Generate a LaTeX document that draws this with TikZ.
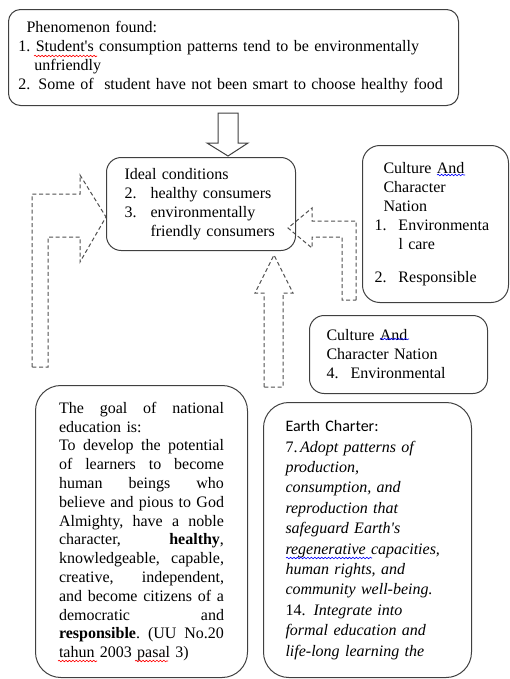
\documentclass[tikz,border=0pt]{standalone}
\usepackage{fontspec}
\setmainfont{Liberation Serif}
\setsansfont{Carlito}
\usepackage{xcolor}
\usetikzlibrary{decorations.pathmorphing}
\setlength{\parindent}{0pt}

% one justified line of the goal box, words split by \hfill
\newcommand{\fillline}[1]{\leavevmode\hbox to 123.75pt{#1}}

\tikzset{every picture/.style={line width=0.75pt}}
\tikzset{
  textbox/.style={draw={rgb, 255:red, 64; green, 64; blue, 64}, anchor=north west, inner ysep=0pt, align=left, font=\fontsize{12}{14.25}\selectfont},
  blockarrow/.style={draw={rgb, 255:red, 64; green, 64; blue, 64}, fill=white, line join=miter},
  dasharrow/.style={draw={rgb, 255:red, 80; green, 80; blue, 80}, dash pattern=on 3pt off 2pt},
  spellmark/.style={decorate, decoration={snake, amplitude=0.6pt, segment length=2.6pt}, line width=0.45pt}
}

\begin{document}
\begin{tikzpicture}[x=0.75pt,y=0.75pt,yscale=-1,xscale=1]
\useasboundingbox (0,0) rectangle (510,679);

%Shape: Down Arrow
\draw [blockarrow] (218,113) -- (238,113) -- (238,143) -- (248,143) -- (228,156) -- (207,143) -- (218,143) -- cycle ;
%Shape: Bent Arrow
\draw [dasharrow] (32,367) -- (32,194) -- (80,194) -- (80,175) -- (106,217) -- (80,262) -- (80,237) -- (48,237) -- (48,367) -- cycle ;
%Shape: Bent Arrow
\draw [dasharrow] (356,300) -- (356,221) -- (312,221) -- (312,208) -- (288,228) -- (312,248) -- (312,237) -- (342,237) -- (342,300) -- cycle ;
%Shape: Up Arrow
\draw [dasharrow] (264,387) -- (264,293) -- (255,293) -- (274,255) -- (293,293) -- (283,293) -- (283,387) -- cycle ;

% Text Node
\draw (8,9) node [textbox, rounded corners=9pt, minimum width=337.5pt, minimum height=72pt, inner xsep=7.5pt, text width=322.5pt] (phen) {\hspace*{6pt}Phenomenon found:\\ 1.\ Student\textquotesingle s consumption patterns tend to be environmentally\\ \hspace*{12pt}unfriendly\\ 2. Some of\ \ student have not been smart to choose healthy food};
% Text Node
\draw (106,157) node [textbox, rounded corners=11pt, minimum width=141.75pt, minimum height=69.75pt, inner xsep=13.5pt, text width=114.75pt] (ideal) {Ideal conditions\\ \makebox[19.5pt][l]{2.}healthy consumers\\ \makebox[19.5pt][l]{3.}environmentally\\ \hspace*{19.5pt}friendly consumers};
% Text Node
\draw (362,145) node [textbox, rounded corners=13pt, minimum width=109.5pt, minimum height=117.75pt, inner xsep=9pt, text width=91.5pt] (culture) {\hspace*{6.75pt}Culture And\\ \hspace*{6.75pt}Character\\ \hspace*{6.75pt}Nation\\ \makebox[18pt][l]{1.}Environmenta\\ \hspace*{18pt}l care\\[10.5pt] \makebox[18pt][l]{2.}Responsible};
% Text Node
\draw (309,315) node [textbox, rounded corners=11pt, minimum width=133.5pt, minimum height=58.5pt, inner xsep=12.75pt, text width=108pt] (nation) {Culture And\\ Character Nation\\ \makebox[18pt][l]{4.}Environmental};
% Text Node
\draw (35,385) node [textbox, rounded corners=19pt, minimum width=159pt, minimum height=219pt, inner xsep=17.25pt, text width=123.75pt, font=\fontsize{12}{14.1}\selectfont] (goal) {\fillline{The\hfill goal\hfill of\hfill national}\\ education is:\\ \fillline{To\hfill develop\hfill the\hfill potential}\\ \fillline{of\hfill learners\hfill to\hfill become}\\ \fillline{human\hfill beings\hfill who}\\ \fillline{believe\hfill and\hfill pious\hfill to\hfill God}\\ \fillline{Almighty,\hfill have\hfill a\hfill noble}\\ \fillline{character,\hfill \textbf{healthy},}\\ \fillline{knowledgeable,\hfill capable,}\\ \fillline{creative,\hfill independent,}\\ \fillline{and\hfill become\hfill citizens\hfill of\hfill a}\\ \fillline{democratic\hfill and}\\ \fillline{\textbf{responsible}.\hfill (UU\hfill No.20}\\ tahun 2003 pasal 3)};
% Text Node
\draw (263,402) node [textbox, rounded corners=19pt, minimum width=156pt, minimum height=206.25pt, inner xsep=16.5pt, text width=123pt, font=\fontsize{12}{15.3}\selectfont] (earth) {\textsf{Earth Charter:}\\ 7.\,\textit{Adopt patterns of}\\ \textit{production,}\\ \textit{consumption, and}\\ \textit{reproduction that}\\ \textit{safeguard Earth\textquotesingle s}\\ \textit{regenerative capacities,}\\ \textit{human rights, and}\\ \textit{community well-being.}\\ 14. \textit{Integrate into}\\ \textit{formal education and}\\ \textit{life-long learning the}};

%Spelling marks
\draw [spellmark, red] (34,56) -- (97,56) ;
\draw [spellmark, blue] (437,175) -- (465,175) ;
\draw [spellmark, blue] (380,339) -- (409,339) ;
\draw [spellmark, blue] (286,558) -- (372,558) ;
\draw [spellmark, red] (58,661) -- (97,661) ;
\draw [spellmark, red] (135,661) -- (168,661) ;

\end{tikzpicture}
\end{document}
